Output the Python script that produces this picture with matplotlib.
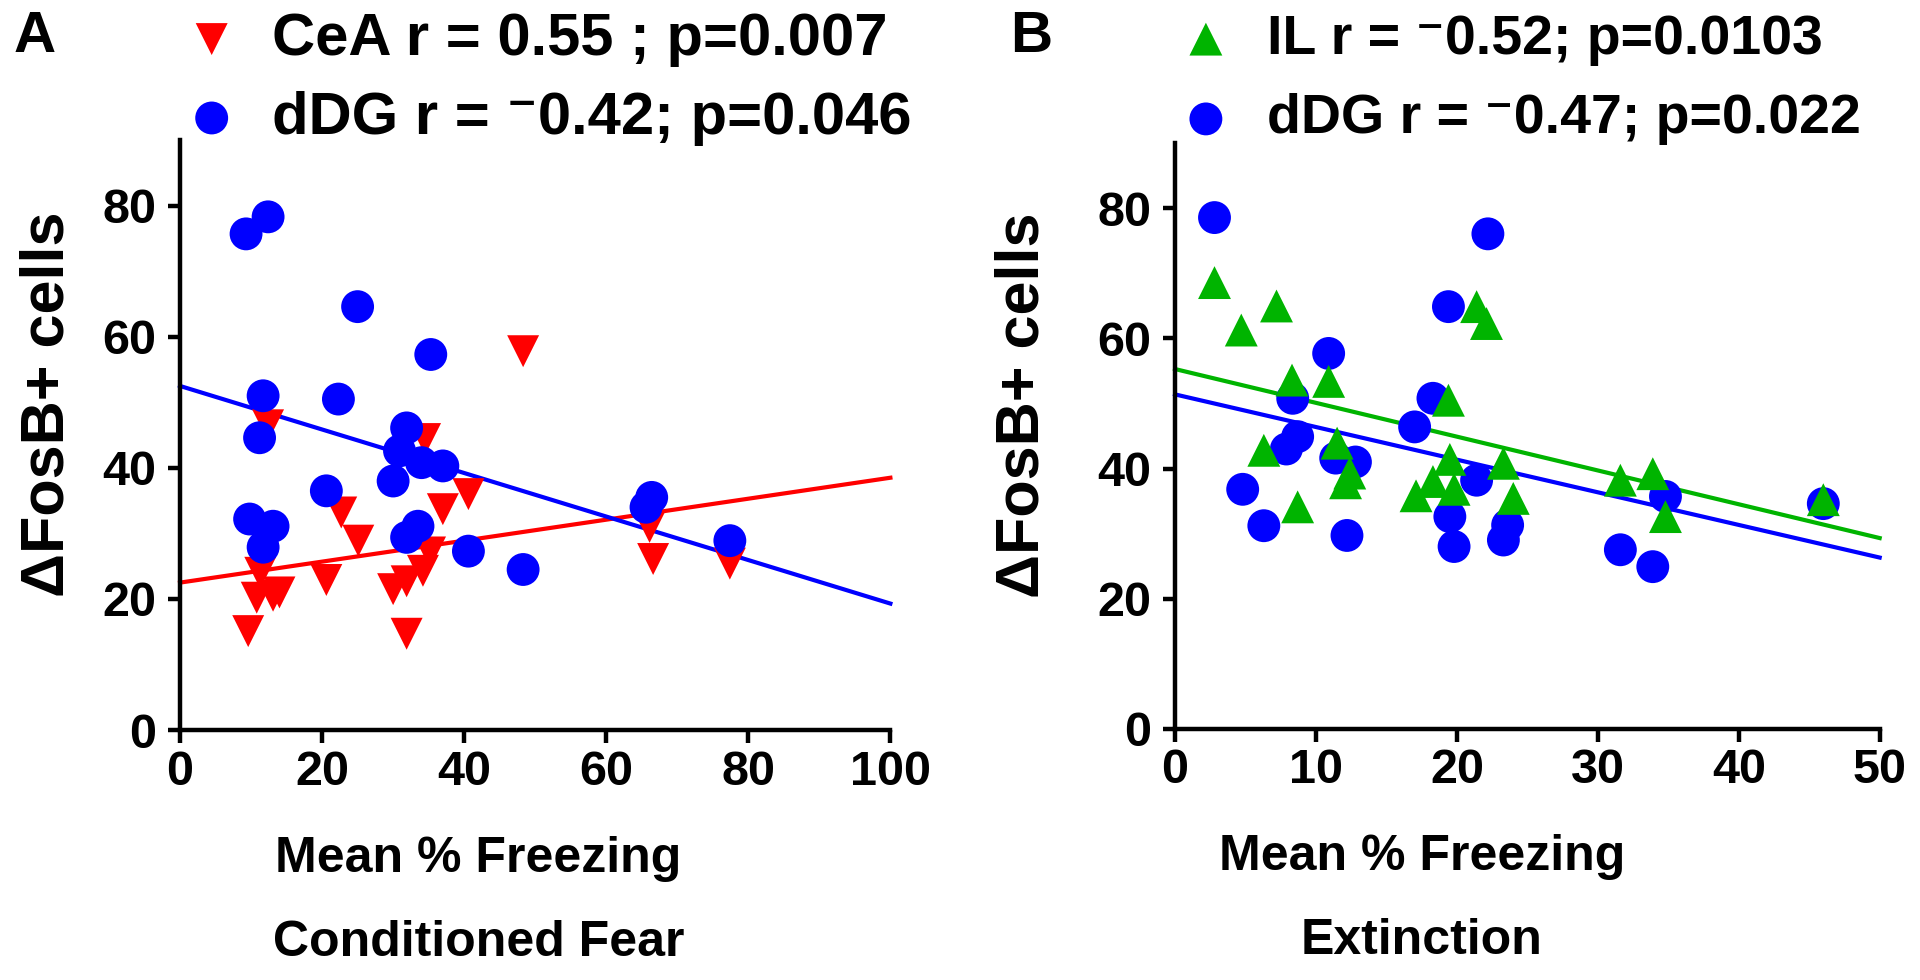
import numpy as np
import matplotlib.pyplot as plt
from matplotlib import font_manager

# Panel A: conditioned fear
cea_x = [9.6, 10.8, 11.3, 13.1, 14.0, 12.4, 20.6, 22.7, 25.1, 30.0, 31.9, 31.9,
         34.2, 35.2, 34.5, 37.0, 40.6, 48.3, 66.1, 66.6, 77.4]
cea_y = [15.1, 20.2, 24.0, 20.5, 21.0, 46.5, 22.9, 33.2, 28.9, 21.5, 22.7, 14.7,
         24.3, 27.1, 44.4, 33.7, 36.0, 57.8, 31.0, 26.1, 25.4]
ddg_a_x = [9.3, 12.4, 25.0, 35.3, 11.7, 22.3, 11.2, 31.9, 30.9, 34.0, 37.0,
           30.0, 20.6, 9.8, 13.1, 11.7, 33.5, 31.9, 40.6, 48.3, 65.6, 66.4, 77.4]
ddg_a_y = [75.7, 78.3, 64.6, 57.3, 51.0, 50.5, 44.6, 46.1, 42.6, 40.8, 40.3,
           38.0, 36.5, 32.2, 31.1, 27.9, 31.1, 29.4, 27.3, 24.5, 34.0, 35.5, 28.9]
# regression lines as printed: value at x = 0 and at the axis end
cea_fit = [22.5, 38.5]
ddg_a_fit = [52.5, 19.3]

# Panel B: extinction
il_x = [2.8, 7.2, 4.7, 21.4, 22.1, 8.3, 10.9, 19.4, 6.3, 11.5, 12.4, 12.1,
        8.7, 19.5, 17.1, 18.3, 19.8, 23.3, 24.0, 31.6, 33.9, 34.8, 46.0]
il_y = [68.6, 65.0, 61.3, 64.9, 62.3, 53.6, 53.4, 50.5, 42.8, 43.9, 39.3, 37.8,
        34.1, 41.4, 35.8, 38.0, 36.8, 40.8, 35.4, 38.2, 39.2, 32.6, 35.2]
ddg_b_x = [2.8, 22.2, 19.4, 10.9, 8.35, 18.3, 17.0, 8.7, 7.9, 11.4, 12.8, 4.8,
           6.3, 12.2, 21.4, 19.5, 19.8, 23.6, 23.3, 31.6, 33.9, 34.8, 46.0]
ddg_b_y = [78.6, 76.1, 64.9, 57.7, 50.8, 50.8, 46.4, 44.9, 43.0, 41.6, 41.0, 36.8,
           31.2, 29.7, 38.2, 32.6, 28.0, 31.3, 29.0, 27.5, 24.9, 35.7, 34.6]
il_fit = [55.3, 29.3]
ddg_b_fit = [51.4, 26.3]

labels_a = ['CeA r = 0.55 ; p=0.007', 'dDG r = \u207b0.42; p=0.046']
labels_b = ['IL r = \u207b0.52; p=0.0103', 'dDG r = \u207b0.47; p=0.022']

RED = '#ff0000'
BLUE = '#0000ff'
GREEN = '#00b400'

plt.rcParams['font.family'] = ['Liberation Sans', 'DejaVu Sans']
plt.rcParams['font.weight'] = 'bold'

# tick numbers and x titles in the original are condensed
try:
    font_manager.findfont('Liberation Sans Narrow', fallback_to_default=False)
    NARROW = ['Liberation Sans Narrow', 'Liberation Sans']
    TICK_SIZE, XLAB_SIZE = 39, 42
except ValueError:
    NARROW = ['Liberation Sans', 'DejaVu Sans']
    TICK_SIZE, XLAB_SIZE = 35, 36

fig = plt.figure(figsize=(19.2, 9.8), dpi=100)


def style_axes(ax, xmax, xstep):
    for side in ['top', 'right']:
        ax.spines[side].set_visible(False)
    for side in ['left', 'bottom']:
        ax.spines[side].set_linewidth(3.2)
    ax.set_xlim(0, xmax)
    ax.set_ylim(0, 90)
    ax.set_xticks(np.arange(0, xmax + 1, xstep))
    ax.set_yticks([0, 20, 40, 60, 80])
    ax.tick_params(direction='out', length=9, width=3.2)
    ax.tick_params(axis='y', pad=8)
    ax.tick_params(axis='x', pad=5)
    for lab in ax.get_xticklabels() + ax.get_yticklabels():
        lab.set_fontweight('bold')
        lab.set_fontsize(TICK_SIZE)
        lab.set_family(NARROW)
    ax.set_ylabel('\u0394FosB+ cells', fontsize=44, fontweight='bold')


def fit_line(ax, fit, xmax, color):
    ax.plot([0, xmax], fit, color=color, lw=3, zorder=2, clip_on=False)


def add_legend(ax, handles, labels, x0, y0, size, pad, spacing):
    ax.legend(handles, labels, loc='upper left', bbox_to_anchor=(x0, y0),
              bbox_transform=fig.transFigure, frameon=False,
              handlelength=1.0, handletextpad=pad, labelspacing=spacing,
              borderpad=0, borderaxespad=0, prop={'weight': 'bold', 'size': size})


def set_xtitle(ax, text, xpos):
    ax.set_xlabel(text, fontsize=XLAB_SIZE, fontweight='bold', family=NARROW,
                  linespacing=2.05)
    ax.xaxis.set_label_coords(xpos, -0.18, transform=ax.transAxes)
    ax.xaxis.label.set_verticalalignment('top')


# ---- panel A
ax1 = fig.add_axes([0.09375, 0.255, 0.370, 0.602])
fit_line(ax1, cea_fit, 100, RED)
fit_line(ax1, ddg_a_fit, 100, BLUE)
h1 = ax1.scatter(cea_x, cea_y, marker='v', s=529, color=RED, edgecolors='none',
                 zorder=3, clip_on=False)
h2 = ax1.scatter(ddg_a_x, ddg_a_y, marker='o', s=560, color=BLUE, edgecolors='none',
                 zorder=4, clip_on=False)
style_axes(ax1, 100, 20)
set_xtitle(ax1, 'Mean % Freezing\nConditioned Fear', 0.42)
ax1.yaxis.set_label_coords(-0.146, 0.553)
add_legend(ax1, [h1, h2], labels_a, 0.0947, 0.988, 43, 0.51, 0.40)
fig.text(0.018, 0.962, 'A', fontsize=42, fontweight='bold', va='center', ha='center')

# ---- panel B
ax2 = fig.add_axes([0.612, 0.2566, 0.367, 0.597])
fit_line(ax2, il_fit, 50, GREEN)
fit_line(ax2, ddg_b_fit, 50, BLUE)
h3 = ax2.scatter(ddg_b_x, ddg_b_y, marker='o', s=560, color=BLUE, edgecolors='none',
                 zorder=3, clip_on=False)
h4 = ax2.scatter(il_x, il_y, marker='^', s=560, color=GREEN, edgecolors='none',
                 zorder=4, clip_on=False)
style_axes(ax2, 50, 10)
set_xtitle(ax2, 'Mean % Freezing\nExtinction', 0.35)
ax2.yaxis.set_label_coords(-0.176, 0.553)
add_legend(ax2, [h4, h3], labels_b, 0.6136, 0.986, 40, 0.60, 0.50)
fig.text(0.537, 0.962, 'B', fontsize=42, fontweight='bold', va='center', ha='center')

fig.savefig('out.png', dpi=100)
